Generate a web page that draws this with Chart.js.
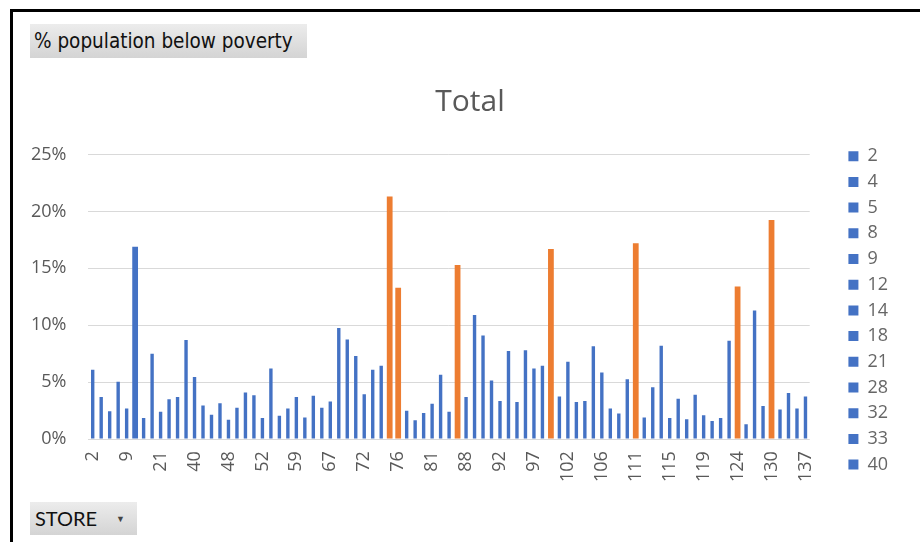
<!DOCTYPE html>
<html>
<head>
<meta charset="utf-8">
<script src="https://cdn.jsdelivr.net/npm/chart.js@4/dist/chart.umd.min.js"></script>
<style>
  html, body { margin: 0; padding: 0; background: #fff; }
  #wrap { position: relative; width: 920px; height: 542px; overflow: hidden; background: #fff; }
  #chart { position: absolute; left: 0; top: 0; }
  .frame-top { position: absolute; left: 10px; top: 9px; width: 910px; height: 3px; background: #000; }
  .frame-left { position: absolute; left: 10px; top: 9px; width: 3px; height: 533px; background: #000; }
  .btn {
    position: absolute; box-sizing: border-box;
    background: linear-gradient(#ececec, #d4d4d4);
    color: #111; white-space: nowrap;
  }
  #fieldBtn { left: 30px; top: 24px; width: 277px; height: 34px;
    font-family: "DejaVu Sans Condensed", "DejaVu Sans", sans-serif; font-size: 20.5px; line-height: 34px; padding-left: 4px; }
  #storeBtn { left: 30px; top: 502px; width: 107px; height: 33px;
    font-family: Lato, sans-serif; font-size: 20px; line-height: 33px; padding-left: 5px; }
  #storeBtn .arrow { position: absolute; left: 86px; top: 0; font-size: 9px; color: #444; }
</style>
</head>
<body>
<div id="wrap">
  <canvas id="chart" width="920" height="542"></canvas>
  <div class="frame-top"></div>
  <div class="frame-left"></div>
  <div class="btn" id="fieldBtn">% population below poverty</div>
  <div class="btn" id="storeBtn">STORE<span class="arrow">▼</span></div>
</div>
<script>
// Store numbers along the category axis
const storeIds = [2, 4, 5, 8, 9, 12, 14, 18, 21, 28, 32, 33, 40, 42, 44, 46, 48, 49, 50, 51,
  52, 54, 56, 58, 59, 61, 63, 65, 67, 68, 70, 71, 72, 73, 74, 75, 76, 77, 78, 80,
  81, 83, 85, 86, 88, 89, 90, 91, 92, 93, 94, 96, 97, 98, 99, 100, 102, 103, 104, 105,
  106, 107, 108, 110, 111, 112, 113, 114, 115, 116, 117, 118, 119, 120, 121, 123, 124, 125, 127, 128,
  130, 132, 134, 135, 137];

// Share of population below the poverty line, per store
const povertyRate = [0.061, 0.037, 0.0245, 0.0505, 0.027, 0.169, 0.0185, 0.075, 0.024, 0.035,
  0.037, 0.087, 0.0545, 0.0295, 0.0215, 0.0315, 0.017, 0.0275, 0.041, 0.0385,
  0.0185, 0.062, 0.0205, 0.027, 0.037, 0.019, 0.038, 0.0275, 0.033, 0.0975,
  0.0875, 0.073, 0.0395, 0.061, 0.0645, 0.213, 0.133, 0.025, 0.0165, 0.023,
  0.031, 0.0565, 0.024, 0.153, 0.037, 0.109, 0.091, 0.0515, 0.0335, 0.0775,
  0.0325, 0.078, 0.062, 0.0645, 0.167, 0.0375, 0.068, 0.0325, 0.0335, 0.0815,
  0.0585, 0.027, 0.0225, 0.0525, 0.172, 0.019, 0.0455, 0.082, 0.0185, 0.0355,
  0.0175, 0.039, 0.021, 0.016, 0.0185, 0.0865, 0.134, 0.013, 0.113, 0.029,
  0.1925, 0.026, 0.0405, 0.027, 0.0375];

// Stores highlighted in orange, and stores whose bars are drawn wider
const highlightedStores = [75, 76, 86, 99, 111, 124, 130];
const wideStores = [12, 75, 76, 86, 99, 111, 124, 130];

// Y axis tick values and how many stores appear in the legend
const yTicks = [0, 0.05, 0.10, 0.15, 0.20, 0.25];
const legendCount = 13;

const BLUE = '#4472C4';
const ORANGE = '#ED7D31';
const TEXT = '#595959';
const FONT = '"Open Sans", sans-serif';

const labels = storeIds.map(String);
const narrowData = povertyRate.map((v, i) => wideStores.includes(storeIds[i]) ? null : v);
const wideData = povertyRate.map((v, i) => wideStores.includes(storeIds[i]) ? v : null);
const wideColors = storeIds.map(s => highlightedStores.includes(s) ? ORANGE : BLUE);

// Empty spacer axes: keep room between plot and legend, and above the plot
const spacer = (size, horizontal) => ({
  type: 'linear', display: true,
  grid: { display: false, drawTicks: false },
  border: { display: false },
  ticks: { display: false },
  afterFit: s => { if (horizontal) s.height = size; else s.width = size; }
});

// Centre the title over the plot-and-legend block rather than the whole canvas
const titleOffset = {
  id: 'titleOffset',
  afterLayout(chart) {
    if (chart.titleBlock) chart.titleBlock.left = 42;
  }
};

new Chart(document.getElementById('chart'), {
  type: 'bar',
  data: {
    labels,
    datasets: [
      { label: 'Total', data: narrowData, backgroundColor: BLUE,
        barPercentage: 0.4, categoryPercentage: 1, grouped: false },
      { label: 'Total', data: wideData, backgroundColor: wideColors,
        barPercentage: 0.68, categoryPercentage: 1, grouped: false }
    ]
  },
  plugins: [titleOffset],
  options: {
    responsive: false,
    animation: false,
    events: [],
    layout: { padding: { top: 71, left: 9, right: 22, bottom: 48 } },
    plugins: {
      tooltip: { enabled: false },
      title: {
        display: true, text: 'Total', color: TEXT,
        font: { family: FONT, size: 30, weight: 'normal' },
        padding: { top: 13, bottom: 18.5 }
      },
      legend: {
        position: 'right', align: 'start',
        title: { display: true, text: ' ', font: { size: 10 }, padding: { top: 0, bottom: 56.5 } },
        labels: {
          color: TEXT, boxWidth: 10, boxHeight: 10, padding: 7.7,
          font: { family: FONT, size: 18 },
          generateLabels: () => storeIds.slice(0, legendCount).map(s => ({
            text: String(s), fillStyle: BLUE, strokeStyle: BLUE, lineWidth: 0, hidden: false
          }))
        }
      }
    },
    scales: {
      x: {
        grid: { display: false, drawTicks: false },
        border: { display: false },
        ticks: {
          autoSkip: false, minRotation: 90, maxRotation: 90, padding: 12,
          color: TEXT, font: { family: FONT, size: 18 },
          callback: (v, i) => i % 4 === 0 ? labels[i] : ''
        }
      },
      y: {
        min: 0, max: 0.25,
        afterBuildTicks: axis => { axis.ticks = yTicks.map(v => ({ value: v })); },
        grid: { color: '#d9d9d9', lineWidth: 1, drawTicks: false },
        border: { display: false },
        ticks: {
          padding: 22, color: TEXT, font: { family: FONT, size: 18 },
          callback: v => Math.round(v * 100) + '%'
        }
      },
      gapRight: Object.assign(spacer(31, false), { position: 'right' }),
      gapTop: Object.assign(spacer(16, true), { position: 'top' })
    }
  }
});
</script>
</body>
</html>
